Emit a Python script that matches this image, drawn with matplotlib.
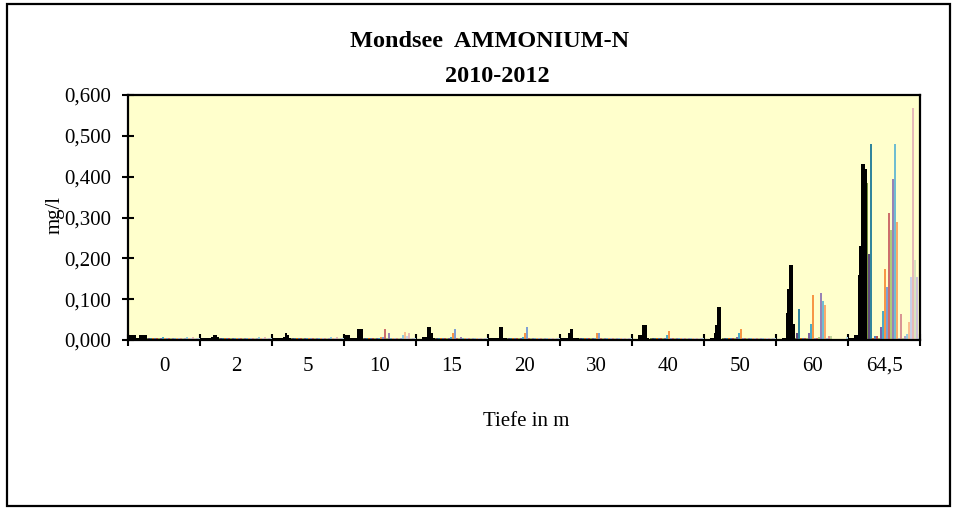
import numpy as np
import matplotlib
matplotlib.use("Agg")
import matplotlib.pyplot as plt
from matplotlib.patches import Rectangle

plt.rcParams['font.family'] = ['Liberation Serif', 'DejaVu Serif']

# Tiefe (m) categories
depths = ['0', '2', '5', '10', '15', '20', '30', '40', '50', '60', '64,5']

# first ten series per depth (drawn black)
black_bars = [
    [0.012, 0.012, 0.012, 0.012, 0.004, 0.004, 0.012, 0.012, 0.012, 0.012],  # 0
    [0.004, 0.004, 0.004, 0.004, 0.004, 0.004, 0.008, 0.012, 0.012, 0.008],  # 2
    [0.004, 0.004, 0.004, 0.004, 0.004, 0.004, 0.008, 0.017, 0.012, 0.004],  # 5
    [0.012, 0.012, 0.012, 0.004, 0.004, 0.004, 0.004, 0.027, 0.027, 0.027],  # 10
    [0.003, 0.003, 0.003, 0.008, 0.008, 0.008, 0.032, 0.032, 0.017, 0.004],  # 15
    [0.004, 0.004, 0.004, 0.004, 0.004, 0.006, 0.032, 0.032, 0.004, 0.004],  # 20
    [0.004, 0.004, 0.004, 0.006, 0.016, 0.026, 0.026, 0.004, 0.004, 0.004],  # 30
    [0.003, 0.003, 0.003, 0.012, 0.012, 0.037, 0.037, 0.037, 0.005, 0.003],  # 40
    [0.003, 0.003, 0.003, 0.006, 0.006, 0.016, 0.036, 0.080, 0.080, 0.003],  # 50
    [0.003, 0.003, 0.003, 0.006, 0.006, 0.065, 0.125, 0.183, 0.183, 0.040],  # 60
    [0.004, 0.004, 0.005, 0.012, 0.012, 0.160, 0.230, 0.430, 0.430, 0.420],  # 64,5
]

# remaining 27 series per depth (Excel colour cycle)
colour_bars = [
    [0.004, 0.004, 0.004, 0.004, 0.004, 0.004, 0.004, 0.004, 0.008, 0.004, 0.004, 0.004, 0.004, 0.004,
     0.004, 0.004, 0.004, 0.004, 0.004, 0.004, 0.008, 0.004, 0.004, 0.008, 0.004, 0.004, 0.004],  # 0
    [0.004, 0.004, 0.004, 0.004, 0.004, 0.004, 0.004, 0.004, 0.004, 0.004, 0.004, 0.004, 0.004, 0.004,
     0.004, 0.004, 0.004, 0.004, 0.004, 0.004, 0.008, 0.004, 0.004, 0.008, 0.004, 0.004, 0.004],  # 2
    [0.004, 0.004, 0.004, 0.004, 0.004, 0.004, 0.004, 0.004, 0.004, 0.004, 0.004, 0.004, 0.004, 0.004,
     0.004, 0.004, 0.004, 0.004, 0.004, 0.004, 0.008, 0.004, 0.004, 0.008, 0.004, 0.004, 0.004],  # 5
    [0.004, 0.004, 0.004, 0.004, 0.004, 0.004, 0.004, 0.004, 0.004, 0.008, 0.008, 0.027, 0.004, 0.017,
     0.004, 0.004, 0.004, 0.004, 0.004, 0.004, 0.012, 0.020, 0.010, 0.017, 0.004, 0.004, 0.004],  # 10
    [0.004, 0.004, 0.004, 0.004, 0.004, 0.004, 0.004, 0.004, 0.008, 0.017, 0.027, 0.004, 0.004, 0.008,
     0.004, 0.004, 0.004, 0.004, 0.004, 0.004, 0.004, 0.004, 0.004, 0.004, 0.004, 0.004, 0.004],  # 15
    [0.004, 0.004, 0.004, 0.004, 0.004, 0.004, 0.004, 0.004, 0.008, 0.017, 0.032, 0.004, 0.004, 0.004,
     0.004, 0.004, 0.004, 0.004, 0.004, 0.004, 0.004, 0.004, 0.004, 0.004, 0.004, 0.004, 0.004],  # 20
    [0.004, 0.004, 0.004, 0.004, 0.004, 0.004, 0.004, 0.004, 0.006, 0.016, 0.016, 0.004, 0.004, 0.004,
     0.004, 0.004, 0.004, 0.004, 0.004, 0.004, 0.004, 0.004, 0.004, 0.004, 0.004, 0.004, 0.004],  # 30
    [0.004, 0.004, 0.004, 0.004, 0.004, 0.004, 0.004, 0.004, 0.012, 0.022, 0.005, 0.004, 0.004, 0.004,
     0.004, 0.004, 0.004, 0.004, 0.004, 0.004, 0.004, 0.004, 0.004, 0.004, 0.004, 0.004, 0.004],  # 40
    [0.004, 0.004, 0.004, 0.004, 0.004, 0.004, 0.004, 0.008, 0.018, 0.027, 0.004, 0.004, 0.004, 0.004,
     0.004, 0.004, 0.004, 0.004, 0.004, 0.004, 0.004, 0.004, 0.004, 0.004, 0.004, 0.004, 0.004],  # 50
    [0.005, 0.016, 0.075, 0.004, 0.004, 0.004, 0.004, 0.016, 0.040, 0.110, 0.004, 0.004, 0.008, 0.115,
     0.095, 0.085, 0.004, 0.010, 0.010, 0.003, 0.003, 0.003, 0.003, 0.003, 0.003, 0.003, 0.008],  # 60
    [0.385, 0.210, 0.480, 0.005, 0.010, 0.010, 0.005, 0.032, 0.072, 0.175, 0.130, 0.310, 0.270, 0.395,
     0.480, 0.290, 0.005, 0.063, 0.005, 0.010, 0.015, 0.043, 0.155, 0.567, 0.195, 0.155, 0.005],  # 64,5
]

series_colours = ['#77933C', '#5F497A', '#31859C', '#E46C0A',
                  '#4F81BD', '#C0504D', '#9BBB59', '#8064A2', '#4BACC6', '#F79646',
                  '#7F9FD3', '#CD6F6C', '#AFC97A', '#9983B5', '#6FBDD1', '#F9AB6B',
                  '#A7BDE0', '#D99694', '#C3D69B', '#B3A2C7', '#93CDDD', '#FAC090',
                  '#C6D0E7', '#E6B9B8', '#D7E4BD', '#CCC1DA', '#B7DEE8']

n_slots = 36
n_black = len(black_bars[0])
slot = 1.0 / n_slots

fig = plt.figure(figsize=(9.55, 5.08), dpi=100)
fig.add_artist(Rectangle((7 / 955, 1 - 506 / 508), 943 / 955, 502 / 508,
                         transform=fig.transFigure, fill=False, lw=1.6, ec='black'))

ax = fig.add_axes([128 / 955, 168 / 508, 792 / 955, 245 / 508])
ax.set_facecolor('#FFFFCC')

cat_x = np.arange(len(depths))
colour_vals = np.array(colour_bars)
black_vals = np.array(black_bars)

for j, col in enumerate(series_colours):
    s = 9 + j
    ax.bar(cat_x + s * slot, colour_vals[:, j], width=slot, align='edge',
           color=col, linewidth=0, zorder=2)

bw = slot * 0.95
for k in range(n_black):
    ax.bar(cat_x + k * bw, black_vals[:, k], width=bw, align='edge',
           color='black', linewidth=0, zorder=3)

ax.set_xlim(0, len(depths))
ax.set_ylim(0, 0.6)
ax.set_xticks(np.arange(len(depths) + 1))
ax.set_xticklabels([])
ax.set_xticks(cat_x + 0.5, minor=True)
ax.set_xticklabels(depths, minor=True)
ax.tick_params(axis='x', which='minor', length=0, pad=12, labelsize=15)
ax.tick_params(axis='x', which='major', direction='inout', length=9, width=1.5)

ax.set_yticks(np.arange(0, 0.61, 0.1))
ax.set_yticklabels([f"{v:.3f}".replace('.', ',') for v in np.arange(0, 0.61, 0.1)])
ax.tick_params(axis='y', direction='inout', length=8, width=1.5, pad=8, labelsize=15)

for sp in ax.spines.values():
    sp.set_linewidth(1.6)
    sp.set_zorder(5)

fig.text(490 / 955, 1 - 47 / 508, 'Mondsee  AMMONIUM-N', ha='center', va='baseline',
         fontsize=17.5, fontweight='bold')
fig.text(497 / 955, 1 - 82 / 508, '2010-2012', ha='center', va='baseline',
         fontsize=17.5, fontweight='bold')
fig.text(526 / 955, 1 - 426 / 508, 'Tiefe in m', ha='center', va='baseline', fontsize=15)
fig.text(55 / 955, 1 - 215 / 508, 'mg/l', ha='center', va='center', rotation=90, fontsize=15)

fig.savefig('out.png', dpi=100)
